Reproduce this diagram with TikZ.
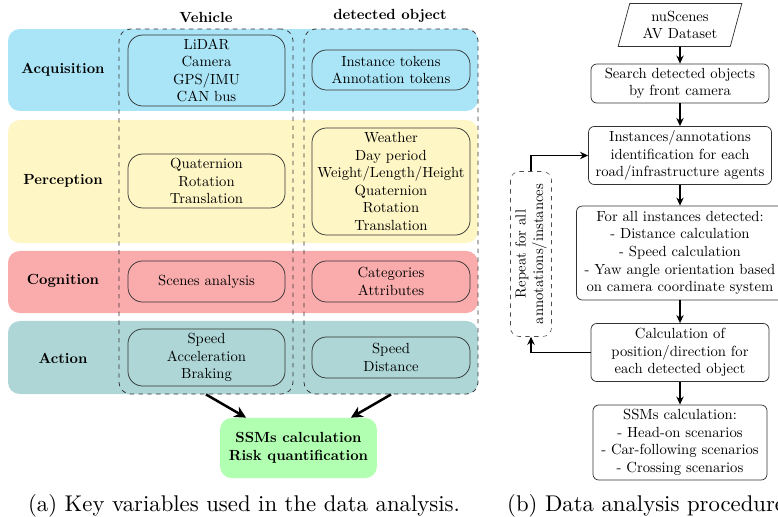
\documentclass[tikz,border=0pt]{standalone}
\usepackage{fontspec}
\newfontfamily\capfont[Extension=.otf]{lmroman10-regular}
\usetikzlibrary{arrows.meta,shapes.geometric}
\definecolor{bandblue}{RGB}{170,229,247}
\definecolor{bandyellow}{RGB}{255,246,198}
\definecolor{bandred}{RGB}{250,172,172}
\definecolor{bandteal}{RGB}{174,214,214}
\definecolor{boxgreen}{RGB}{177,255,177}
\begin{document}
\begin{tikzpicture}[x=0.682pt,y=-0.682pt,
  band/.style={rounded corners=8pt,minimum width=320.5pt,inner sep=0pt},
  rowlabel/.style={font=\bfseries,align=center},
  coltitle/.style={font=\bfseries},
  colbox/.style={draw=black!80,line width=0.55pt,dashed,rounded corners=8pt,minimum width=118.7pt,minimum height=249pt,inner sep=0pt},
  varbox/.style={draw=black!80,line width=0.5pt,rounded corners=10pt,align=center,inner xsep=2pt,inner ysep=1pt},
  resbox/.style={fill=boxgreen,rounded corners=8pt,align=center,font=\bfseries,minimum width=107pt,minimum height=41pt},
  bigarr/.style={line width=1.7pt,-{Stealth[length=8pt,width=8pt]}},
  flowbox/.style={draw=black!80,line width=0.5pt,rounded corners=4pt,align=center,inner sep=1pt},
  flowarr/.style={line width=1.3pt,-{Stealth[length=5.5pt,width=5pt]}},
  captext/.style={font=\capfont\fontsize{15.5}{18}\selectfont}
]
\useasboundingbox (0,0) rectangle (778,517);

% bands
\node[band,fill=bandblue,minimum height=55.9pt] (bacq) at (243,70) {};
\node[band,fill=bandyellow,minimum height=83.9pt] (bperc) at (243,181.5) {};
\node[band,fill=bandred,minimum height=42.3pt] (bcog) at (243,282) {};
\node[band,fill=bandteal,minimum height=49.8pt] (bact) at (243,357.5) {};

% row labels
\node[rowlabel] (lacq) at (63,70) {Acquisition};
\node[rowlabel] (lperc) at (63,181) {Perception};
\node[rowlabel] (lcog) at (63,281) {Cognition};
\node[rowlabel] (lact) at (63,358) {Action};

% columns
\node[colbox] (vcol) at (206,211.5) {};
\node[colbox] (dcol) at (391,211.5) {};
\node[coltitle] (tveh) at (206,17) {Vehicle};
\node[coltitle] (tdet) at (390,16) {detected object};

% vehicle boxes
\node[varbox,minimum width=107.1pt,minimum height=48.4pt] (vacq) at (206.5,70.5) {LiDAR\\Camera\\GPS/IMU\\CAN bus};
\node[varbox,minimum width=107.1pt,minimum height=36.8pt] (vperc) at (206.5,181) {Quaternion\\Rotation\\Translation};
\node[varbox,minimum width=107.1pt,minimum height=28pt] (vcog) at (206.5,281.5) {Scenes analysis};
\node[varbox,minimum width=107.1pt,minimum height=38.9pt] (vact) at (206.5,357.5) {Speed\\Acceleration\\Braking};

% detected object boxes
\node[varbox,minimum width=107.8pt,minimum height=27.3pt] (dacq) at (391,70) {Instance tokens\\Annotation tokens};
\node[varbox,minimum width=107.8pt,minimum height=73pt] (dperc) at (391,181.5) {Weather\\Day period\\Weight/Length/Height\\Quaternion\\Rotation\\Translation};
\node[varbox,minimum width=107.8pt,minimum height=28pt] (dcog) at (391,281.5) {Categories\\Attributes};
\node[varbox,minimum width=107.8pt,minimum height=28pt] (dact) at (391,357.5) {Speed\\Distance};

% result
\node[resbox] (res) at (298.5,448) {SSMs calculation\\Risk quantification};
\draw[bigarr] (vcol.south) -- (res);
\draw[bigarr] (dcol.south) -- (res);

\node[captext] (capa) at (244,506) {(a) Key variables used in the data analysis.};

% right flowchart
\node[draw=black!80,line width=0.5pt,trapezium,trapezium left angle=74,trapezium right angle=106,trapezium stretches=true,minimum width=84.6pt,minimum height=29.3pt,align=center,inner sep=1pt] (nu) at (680,25) {nuScenes\\AV Dataset};
\node[flowbox,minimum width=121.4pt,minimum height=26.6pt] (search) at (680,83.5) {Search detected objects\\by front camera};
\node[flowbox,minimum width=124.8pt,minimum height=39.6pt] (inst) at (680,155.5) {Instances/annotations\\identification for each\\road/infrastructure agents};
\node[flowbox,minimum width=141.2pt,minimum height=64.1pt] (forall) at (680,253) {For all instances detected:\\- Distance calculation\\- Speed calculation\\- Yaw angle orientation based\\on camera coordinate system};
\node[flowbox,minimum width=121.4pt,minimum height=39.6pt] (calc) at (680,352.5) {Calculation of\\position/direction for\\each detected object};
\node[flowbox,minimum width=118.7pt,minimum height=51.2pt] (ssm) at (680,442.5) {SSMs calculation:\\- Head-on scenarios\\- Car-following scenarios\\- Crossing scenarios};
\node[draw=black!70,dashed,rounded corners=6pt,rotate=90,minimum width=112.5pt,minimum height=28pt,align=center,inner sep=1pt] (rep) at (531,254) {Repeat for all\\annotations/instances};

\draw[flowarr] (nu.south) -- (search.north);
\draw[flowarr] (search.south) -- (inst.north);
\draw[flowarr] (inst.south) -- (forall.north);
\draw[flowarr] (forall.south) -- (calc.north);
\draw[flowarr] (calc.south) -- (ssm.north);
\draw[flowarr] (calc.west) -| (rep.west);
\draw[flowarr] (rep.east) |- (inst.west);

\node[captext,anchor=west] (capb) at (502,506) {(b) Data analysis procedure};
\end{tikzpicture}
\end{document}
